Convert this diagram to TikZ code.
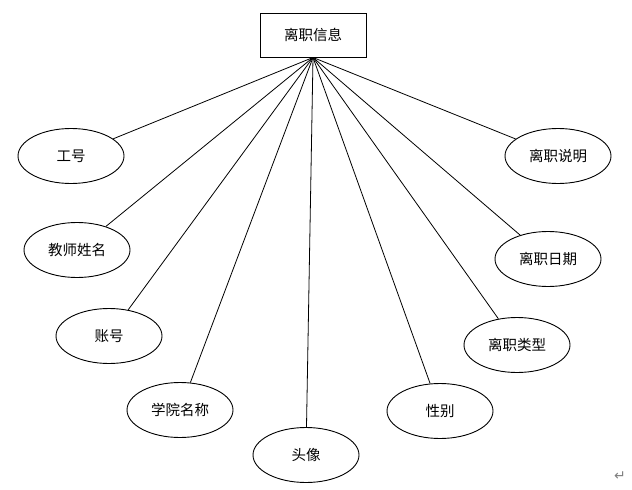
\documentclass[tikz,border=0pt]{standalone}
\usepackage{fontspec}
\setmainfont{Liberation Serif}
\newfontfamily\cjk{Noto Sans CJK SC}
\newfontfamily\symfont{DejaVu Sans}
\usetikzlibrary{shapes.geometric}
\begin{document}
\begin{tikzpicture}[x=1pt,y=-1pt,
  attr/.style={draw,ellipse,line width=0.9pt,minimum width=106pt,minimum height=55pt,inner sep=0pt,font=\cjk\fontsize{14.5}{16}\selectfont},
  ent/.style={draw,rectangle,line width=1pt,minimum width=106pt,minimum height=44pt,inner sep=0pt,font=\cjk\fontsize{14.5}{16}\selectfont},
  link/.style={line width=0.8pt}]
\useasboundingbox (0,0) rectangle (632,490);
\node[ent] (top) at (313,35) {离职信息};
\node[attr] (a1) at (71,156) {工号};
\node[attr] (a2) at (77,250) {教师姓名};
\node[attr] (a3) at (109,336) {账号};
\node[attr] (a4) at (180,410) {学院名称};
\node[attr] (a5) at (306,455) {头像};
\node[attr] (a6) at (440,411) {性别};
\node[attr] (a7) at (517,345) {离职类型};
\node[attr] (a8) at (548,259) {离职日期};
\node[attr] (a9) at (558,156) {离职说明};
\coordinate (apex) at (top.south);
\foreach \n in {a1,a2,a3,a4,a5,a6,a7,a8,a9}
  \draw[link] (apex) -- (\n);
\node[font=\symfont\fontsize{14}{15}\selectfont,text=gray,inner sep=0pt] (ret) at (620,476) {↵};
\end{tikzpicture}
\end{document}
